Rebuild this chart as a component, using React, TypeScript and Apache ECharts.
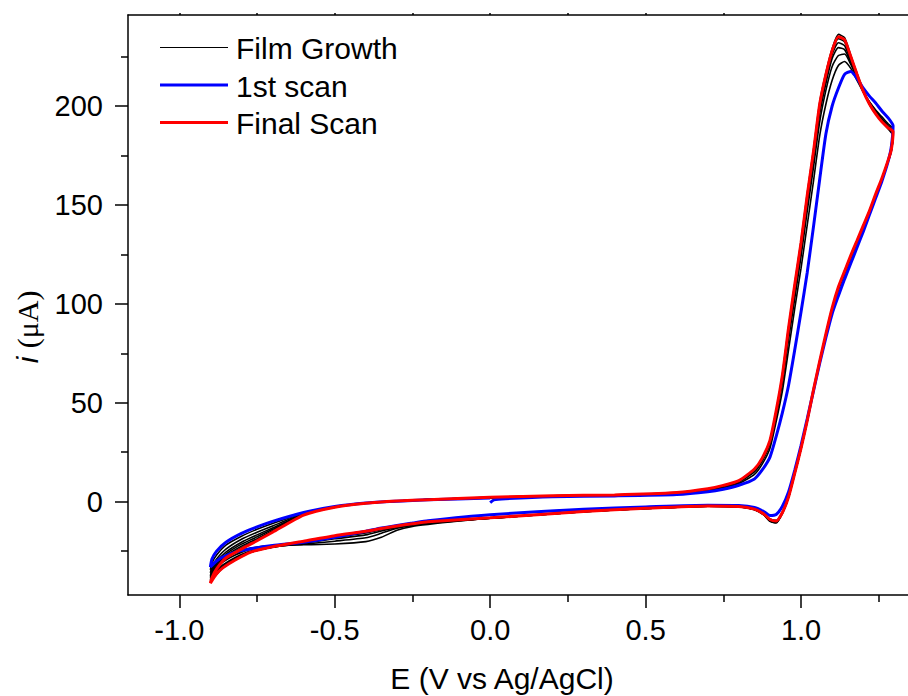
import React, { useEffect, useRef } from "react";
import * as echarts from "echarts";

// Potential grids (V vs Ag/AgCl)
const E_ANODIC = [-0.9, -0.895, -0.88, -0.85, -0.8, -0.75, -0.7, -0.6, -0.5, -0.4, -0.3, -0.2, 0.0, 0.2, 0.4, 0.6, 0.7, 0.75, 0.8, 0.85, 0.875, 0.9, 0.92, 0.94, 0.96, 0.98, 1.0, 1.02, 1.04, 1.06, 1.08, 1.1, 1.12, 1.14, 1.16, 1.18, 1.2, 1.22, 1.24, 1.26, 1.28, 1.296];
const E_CATHODIC = [1.296, 1.29, 1.28, 1.26, 1.24, 1.22, 1.2, 1.18, 1.16, 1.14, 1.12, 1.1, 1.08, 1.06, 1.04, 1.02, 1.0, 0.98, 0.96, 0.94, 0.92, 0.9, 0.88, 0.85, 0.8, 0.7, 0.5, 0.3, 0.0, -0.2, -0.25, -0.3, -0.35, -0.4, -0.5, -0.6, -0.7, -0.77, -0.82, -0.86, -0.88, -0.9];

// 1st scan (blue), starting at 0.0 V
const FIRST_START_E = [0.0, 0.012, 0.05];
const FIRST_START_I = [-0.5, 0.9, 1.5];
const FIRST_ANODIC = [-33, -29, -25, -20.5, -16, -12.8, -10, -5.5, -2.5, -0.7, 0.2, 0.9, 1.8, 2.5, 2.9, 3.6, 5.0, 6.3, 8.3, 11.5, 16, 22.5, 33, 45, 59, 77, 96, 116, 139, 163, 186, 200, 209, 216, 217.5, 214, 209, 205, 201.5, 197.5, 194, 190];
const FIRST_CATHODIC = [190, 179, 172, 162, 153.5, 145, 136.5, 128.5, 120.5, 112.5, 104, 95, 83, 70, 56, 42, 28.5, 16, 5, -2.3, -6.5, -7.0, -5.0, -3.0, -2.0, -1.8, -2.7, -3.8, -6.6, -9.6, -10.8, -12, -13.3, -15, -18, -20.5, -22.2, -23.8, -25.5, -28, -30, -33];

// Final scan (red)
const FINAL_ANODIC = [-41.2, -38.5, -34, -28.5, -24, -19.8, -15.5, -6.8, -2.8, -0.8, 0.3, 1.0, 2.2, 3.0, 3.4, 4.6, 6.5, 8.2, 10.6, 16.5, 22, 31, 46, 64, 88, 110, 131, 155, 177, 201, 216, 228, 235, 233.5, 225, 216, 207.5, 201, 196, 192, 189, 187];
const FINAL_CATHODIC = [187, 177.6, 172.5, 163.5, 155.5, 147, 139.5, 132, 124.5, 116.5, 108.5, 98, 85, 71, 56.5, 41, 27, 14.5, 2.5, -5.5, -9.8, -9.0, -6.2, -3.8, -2.5, -2.2, -3.4, -5.0, -8.2, -10.2, -11.2, -12.3, -13.6, -15.0, -17.2, -20.0, -22.8, -25.5, -29.5, -33.5, -36.5, -41.2];

// Film growth scans (black)
const GROWTH_ANODIC = [
  [-34.5, -31, -27, -22, -17.5, -14, -11, -6, -2.6, -0.7, 0.2, 0.9, 1.9, 2.7, 3.1, 4.0, 5.6, 7.0, 9.2, 13.8, 19, 27, 40.5, 56, 77, 98, 118, 140, 162, 185, 201, 213, 220.5, 222.5, 219, 213, 207, 202, 198, 194.5, 191, 188.5],
  [-36, -33, -29, -24, -19, -15.5, -12.3, -6.3, -2.7, -0.7, 0.2, 1.0, 2.0, 2.8, 3.2, 4.2, 6.0, 7.5, 9.8, 15, 20.5, 29, 43, 60, 82, 103, 124, 147, 169, 192, 208, 220, 225.5, 226.3, 221, 214, 207.5, 202, 197.5, 193.5, 190, 187.5],
  [-37.5, -34.5, -30.5, -25.5, -20.5, -16.8, -13.3, -6.5, -2.7, -0.8, 0.3, 1.0, 2.1, 2.9, 3.3, 4.4, 6.2, 7.8, 10.2, 15.8, 21.3, 30, 44.5, 62, 85, 106.5, 127.5, 151, 173, 196, 211.5, 224, 229.5, 228.5, 222, 214.5, 207.5, 201.5, 197, 193, 189.5, 186.5],
  [-38.5, -35.5, -31.5, -26.5, -21.5, -17.8, -14, -6.6, -2.8, -0.8, 0.3, 1.0, 2.1, 2.9, 3.3, 4.5, 6.3, 8.0, 10.4, 16.1, 21.6, 30.5, 45.2, 63, 86.5, 108, 129.5, 153, 175, 198.5, 213.5, 226, 232, 230.5, 223, 215, 207.5, 201, 196.5, 192.5, 189, 186],
  [-39.5, -36.8, -32.5, -27.3, -22.5, -18.7, -14.7, -6.7, -2.8, -0.8, 0.3, 1.0, 2.2, 3.0, 3.4, 4.5, 6.4, 8.1, 10.5, 16.3, 21.8, 30.8, 45.6, 63.5, 87.3, 109, 130.3, 154, 176, 200, 215, 227.3, 234, 232.5, 224, 215.5, 207.5, 200.8, 196, 192, 188.7, 185.5],
  [-40.5, -37.8, -33.3, -28, -23.3, -19.3, -15.2, -6.8, -2.8, -0.8, 0.3, 1.0, 2.2, 3.0, 3.4, 4.6, 6.5, 8.2, 10.6, 16.5, 22, 31, 46, 64.5, 88.5, 110.5, 132, 156, 178, 202, 217, 229, 236.2, 234.5, 225.5, 216.5, 208, 201, 196, 192, 188.5, 185],
];
const GROWTH_CATHODIC = [
  [188.5, 178.5, 172, 162.5, 154.5, 146, 138, 130.5, 123, 115, 107, 97, 84, 70.5, 56, 41, 27, 14.5, 2.5, -5.3, -9.5, -8.8, -6.0, -3.6, -2.4, -2.1, -3.3, -4.9, -8.3, -11.5, -12.5, -14.5, -18, -20.2, -21.4, -21.8, -22.2, -23.5, -26, -29, -31, -34.5],
  [187.5, 178, 172, 162.5, 154.5, 146, 138.5, 131, 123.5, 115.5, 107.5, 97.5, 84.5, 70.5, 56, 41, 27, 14.5, 2.5, -5.5, -10, -9.3, -6.3, -3.8, -2.5, -2.2, -3.4, -5.0, -8.4, -11, -12, -13.5, -16, -18.3, -20, -21.5, -22.5, -24, -27, -30.5, -33, -36],
  [186.5, 177.5, 172, 163, 155, 146.5, 139, 131.5, 124, 116, 108, 97.5, 84.5, 70.5, 56, 41, 27, 14.5, 2.5, -5.6, -10.2, -9.5, -6.4, -3.9, -2.6, -2.3, -3.5, -5.1, -8.4, -10.7, -11.8, -13, -14.8, -16.8, -18.8, -21, -23, -25, -28.2, -32, -34.8, -37.5],
  [186, 177.5, 172.3, 163.3, 155.3, 146.8, 139.3, 131.8, 124.3, 116.3, 108.3, 97.8, 84.8, 70.8, 56.3, 40.8, 26.8, 14.3, 2.3, -5.8, -10.4, -9.7, -6.5, -4.0, -2.6, -2.3, -3.5, -5.1, -8.4, -10.5, -11.6, -12.7, -14.2, -15.8, -18, -20.6, -23, -25.5, -28.8, -32.6, -35.5, -38.5],
  [185.5, 177.3, 172.3, 163.3, 155.4, 147, 139.4, 132, 124.4, 116.4, 108.4, 97.9, 84.9, 70.9, 56.4, 40.9, 26.9, 14.4, 2.4, -5.8, -10.5, -9.8, -6.6, -4.0, -2.6, -2.3, -3.5, -5.1, -8.4, -10.4, -11.4, -12.5, -13.9, -15.4, -17.6, -20.3, -22.9, -25.5, -29.2, -33, -36, -39.5],
  [185, 177, 172, 163, 155.2, 146.8, 139.3, 131.8, 124.3, 116.3, 108.3, 97.8, 84.8, 70.8, 56.3, 40.8, 26.8, 14.3, 2.3, -5.9, -10.8, -10.0, -6.7, -4.1, -2.7, -2.3, -3.5, -5.1, -8.4, -10.3, -11.3, -12.4, -13.7, -15.1, -17.3, -20.1, -22.9, -25.6, -29.5, -33.5, -36.8, -40.5],
];

const X_MAJOR = [-1.0, -0.5, 0.0, 0.5, 1.0];
const X_MINOR = [-0.75, -0.25, 0.25, 0.75, 1.25];
const X_TOP = [-1.0, -0.75, -0.5, -0.25, 0.0, 0.25, 0.5, 0.75, 1.0, 1.25];
const Y_MAJOR = [0, 50, 100, 150, 200];
const Y_MINOR = [-25, 25, 75, 125, 175, 225];

const LEGEND_NAMES = ["Film Growth", "1st scan", "Final Scan"];
const X_TITLE = "E (V vs Ag/AgCl)";

const FONT = '"Liberation Sans", Arial, Helvetica, sans-serif';

function fullLoop(an: number[], ca: number[]) {
  const pts: number[][] = [];
  E_ANODIC.forEach((e, k) => pts.push([e, an[k]]));
  E_CATHODIC.forEach((e, k) => {
    if (k > 0) pts.push([e, ca[k]]);
  });
  return pts;
}

function loopFromZero(an: number[], ca: number[], startE: number[], startI: number[]) {
  const pts: number[][] = [];
  startE.forEach((e, k) => pts.push([e, startI[k]]));
  const last = startE[startE.length - 1];
  E_ANODIC.forEach((e, k) => {
    if (e > last) pts.push([e, an[k]]);
  });
  E_CATHODIC.forEach((e, k) => {
    if (k > 0) pts.push([e, ca[k]]);
  });
  E_ANODIC.forEach((e, k) => {
    if (k > 0 && e <= 0.0) pts.push([e, an[k]]);
  });
  return pts;
}

export default function App() {
  const ref = useRef<HTMLDivElement>(null);
  useEffect(() => {
    if (!ref.current) return;
    const chart = echarts.init(ref.current, undefined, { renderer: "svg" });
    const axisLine = { show: true, onZero: false, lineStyle: { color: "#000", width: 1.5 } };
    const noLine = { show: false, onZero: false };
    const xMin = -1.165;
    const xMax = 1.344;
    const yMin = -47.2;
    const yMax = 246;

    const series: any[] = [];
    GROWTH_ANODIC.forEach((an, k) => {
      series.push({
        name: LEGEND_NAMES[0],
        type: "line",
        data: fullLoop(an, GROWTH_CATHODIC[k]),
        showSymbol: false,
        symbol: "none",
        smooth: 0.2,
        lineStyle: { color: "#000", width: 1.6 },
        z: 2,
      });
    });
    series.push({
      name: LEGEND_NAMES[1],
      type: "line",
      data: loopFromZero(FIRST_ANODIC, FIRST_CATHODIC, FIRST_START_E, FIRST_START_I),
      showSymbol: false,
      symbol: "none",
      smooth: 0.2,
      lineStyle: { color: "#0000ff", width: 3 },
      z: 3,
    });
    series.push({
      name: LEGEND_NAMES[2],
      type: "line",
      data: loopFromZero(FINAL_ANODIC, FINAL_CATHODIC, [0.0], [FINAL_ANODIC[E_ANODIC.indexOf(0.0)]]),
      showSymbol: false,
      symbol: "none",
      smooth: 0.2,
      lineStyle: { color: "#ff0000", width: 3 },
      z: 4,
    });

    const legendY = [47.5, 85, 122.5];
    const legendColors = ["#000", "#0000ff", "#ff0000"];
    const legendWidths = [1, 3, 3];
    const graphic: any[] = [];
    LEGEND_NAMES.forEach((n, k) => {
      graphic.push({
        type: "line",
        shape: { x1: 160, y1: legendY[k], x2: 228, y2: legendY[k] },
        style: { stroke: legendColors[k], lineWidth: legendWidths[k] },
        z: 10,
      });
      graphic.push({
        type: "text",
        x: 236,
        y: legendY[k] + 1,
        style: { text: n, fill: "#000", font: `30px ${FONT}`, align: "left", verticalAlign: "middle" },
        z: 10,
      });
    });
    graphic.push({
      type: "text",
      x: 502,
      y: 678,
      style: { text: X_TITLE, fill: "#000", font: `30px ${FONT}`, align: "center", verticalAlign: "middle" },
    });
    graphic.push({
      type: "text",
      x: 27,
      y: 327,
      rotation: Math.PI / 2,
      style: {
        text: "{a|i} {b|(μA)}",
        fill: "#000",
        font: `30px ${FONT}`,
        align: "center",
        verticalAlign: "middle",
        rich: {
          a: { fontStyle: "italic", fontFamily: FONT, fontSize: 30, fill: "#000" },
          b: { fontFamily: '"Liberation Serif", "Times New Roman", serif', fontSize: 30, fill: "#000" },
        },
      },
    });

    const tickStyle = { color: "#000", width: 1.5 };
    chart.setOption({
      animation: false,
      backgroundColor: "#fff",
      grid: { left: 128, top: 15, right: 0, bottom: 101, containLabel: false },
      xAxis: [
        {
          type: "value",
          position: "bottom",
          min: xMin,
          max: xMax,
          axisLine,
          splitLine: { show: false },
          axisTick: { show: true, length: 13, inside: false, lineStyle: tickStyle, customValues: X_MAJOR },
          axisLabel: {
            show: true,
            customValues: X_MAJOR,
            formatter: (v: number) => v.toFixed(1),
            fontFamily: FONT,
            fontSize: 29,
            color: "#000",
            margin: 20,
          },
        },
        {
          type: "value",
          position: "bottom",
          min: xMin,
          max: xMax,
          axisLine: noLine,
          splitLine: { show: false },
          axisTick: { show: true, length: 7, lineStyle: tickStyle, customValues: X_MINOR },
          axisLabel: { show: false },
        },
        {
          type: "value",
          position: "top",
          min: xMin,
          max: xMax,
          axisLine,
          splitLine: { show: false },
          axisTick: { show: true, length: 2, lineStyle: tickStyle, customValues: X_TOP },
          axisLabel: { show: false },
        },
      ],
      yAxis: [
        {
          type: "value",
          position: "left",
          min: yMin,
          max: yMax,
          axisLine,
          splitLine: { show: false },
          axisTick: { show: true, length: 13, lineStyle: tickStyle, customValues: Y_MAJOR },
          axisLabel: {
            show: true,
            customValues: Y_MAJOR,
            formatter: (v: number) => String(Math.round(v)),
            fontFamily: FONT,
            fontSize: 29,
            color: "#000",
            margin: 25,
          },
        },
        {
          type: "value",
          position: "left",
          min: yMin,
          max: yMax,
          axisLine: noLine,
          splitLine: { show: false },
          axisTick: { show: true, length: 7, lineStyle: tickStyle, customValues: Y_MINOR },
          axisLabel: { show: false },
        },
      ],
      series,
      graphic,
    });
    return () => chart.dispose();
  }, []);
  return (
    <div
      ref={ref}
      style={{ position: "absolute", left: 0, top: 0, width: 908, height: 696, background: "#fff" }}
    />
  );
}
